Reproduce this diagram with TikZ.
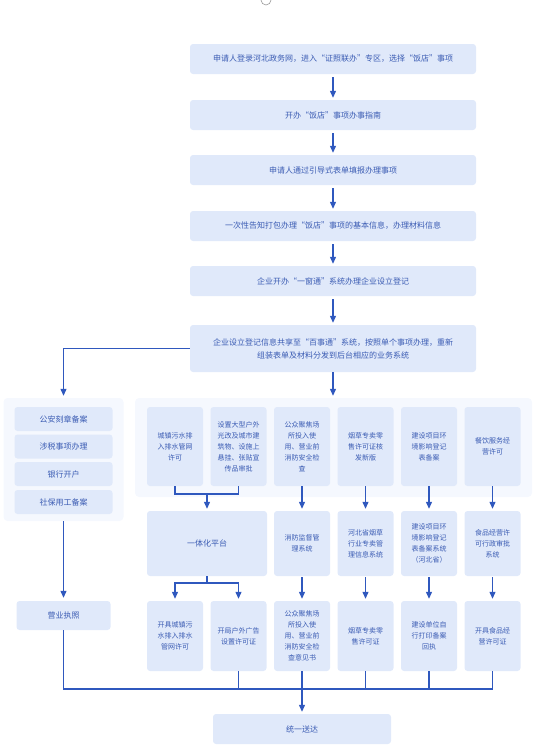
\documentclass[tikz,border=0pt]{standalone}
\usepackage{fontspec}
\setmainfont{Noto Sans CJK SC}
\usetikzlibrary{arrows.meta}
\definecolor{boxfill}{HTML}{E0E9FA}
\definecolor{panelfill}{HTML}{F5F8FE}
\definecolor{ink}{HTML}{3A5BB3}
\definecolor{flow}{HTML}{2F58BE}

\begin{document}
\begin{tikzpicture}[x=1pt,y=-1pt,
every node/.style={font=\fontsize{8}{13}\selectfont,text=ink}, box/.style={fill=boxfill,rounded corners=3pt,align=center,
inner sep=0pt}, mainbox/.style={box,minimum width=286pt,minimum height=30pt},
panel/.style={fill=panelfill,rounded corners=4pt,inner sep=0pt},
itembox/.style={box,minimum width=56pt,font=\fontsize{7}{11}\selectfont},
arr/.style={-{Triangle[width=6pt,length=7pt]},line width=1.2pt,draw=flow}, wire/.style={line width=1.2pt,draw=flow}]
\useasboundingbox (0,0) rectangle (540,750);
\node[circle,draw=gray!80,fill=white,minimum size=10pt,inner sep=0pt,line width=0.6pt] (topdot) at (266,0) {};

\node[mainbox] (login) at (333,59) {申请人登录河北政务网，进入“证照联办”专区，选择“饭店”事项};
\node[mainbox] (guide) at (333,115) {开办“饭店”事项办事指南};
\node[mainbox] (form) at (333,170) {申请人通过引导式表单填报办理事项};
\node[mainbox] (notice) at (333,226) {一次性告知打包办理“饭店”事项的基本信息，办理材料信息};
\node[mainbox] (register) at (333,281) {企业开办“一窗通”系统办理企业设立登记};
\node[mainbox,minimum height=47pt] (share) at (333,348.5) {企业设立登记信息共享至“百事通”系统，按照单个事项办理，重新\\组装表单及材料分发到后台相应的业务系统};
\draw[arr,shorten <=3pt,shorten >=2pt] (login)--(guide); \draw[arr,shorten <=3pt,shorten >=2pt] (guide)--(form);
\draw[arr,shorten <=3pt,shorten >=2pt] (form)--(notice); \draw[arr,shorten <=3pt,shorten >=2pt] (notice)--(register);
\draw[arr,shorten <=3pt,shorten >=2pt] (register)--(share);

\node[panel,minimum width=120pt,minimum height=123pt] (leftpanel) at (63.5,459.5) {};
\node[box,minimum width=98pt,minimum height=24pt] (seal) at (63.5,419) {公安刻章备案};
\node[box,minimum width=98pt,minimum height=24pt] (tax) at (63.5,446.5) {涉税事项办理};
\node[box,minimum width=98pt,minimum height=24pt] (bank) at (63.5,474) {银行开户};
\node[box,minimum width=98pt,minimum height=24pt] (social) at (63.5,502) {社保用工备案};
\node[box,minimum width=94pt,minimum height=29pt] (license) at (63.5,615.5) {营业执照};
\draw[arr,shorten >=2pt] (share.west) -| (leftpanel.north);
\draw[arr,shorten >=3pt] (leftpanel.south)--(license.north);

\node[panel,minimum width=397pt,minimum height=99pt] (rightpanel) at (333.5,447.5) {};
\draw[arr,shorten >=2pt] (share.south)--(share.south |- rightpanel.north);
\node[itembox,minimum height=79pt] (sewer) at (175,446.5) {城镇污水排\\入排水管网\\许可};
\node[itembox,minimum height=79pt] (billboard) at (238.5,446.5) {设置大型户外\\光改及城市建\\筑物、设施上\\悬挂、张贴宣\\传品审批};
\node[itembox,minimum height=79pt] (fire) at (302,446.5) {公众聚焦场\\所投入使\\用、营业前\\消防安全检\\查};
\node[itembox,minimum height=79pt] (tobacco) at (365.5,446.5) {烟草专卖零\\售许可证核\\发新版};
\node[itembox,minimum height=79pt] (envir) at (429,446.5) {建设项目环\\境影响登记\\表备案};
\node[itembox,minimum height=79pt] (food) at (492.5,446.5) {餐饮服务经\\营许可};

\node[box,minimum width=120pt,minimum height=65pt] (platform) at (207,543.5) {一体化平台};
\node[itembox,minimum height=65pt] (fireSys) at (302,543.5) {消防监督管\\理系统};
\node[itembox,minimum height=65pt] (tobaccoSys) at (365.5,543.5) {河北省烟草\\行业专卖管\\理信息系统};
\node[itembox,minimum height=65pt] (envirSys) at (429,543.5) {建设项目环\\境影响登记\\表备案系统\\（河北省）};
\node[itembox,minimum height=65pt] (foodSys) at (492.5,543.5) {食品经营许\\可行政审批\\系统};
\coordinate (topjoin) at (207,494);
\draw[wire] (sewer.south) |- (topjoin) -| (billboard.south);
\draw[arr,shorten >=2pt] (topjoin)--(platform.north);
\draw[arr,shorten >=2pt] (fire)--(fireSys); \draw[arr,shorten >=2pt] (tobacco)--(tobaccoSys);
\draw[arr,shorten >=2pt] (envir)--(envirSys); \draw[arr,shorten >=2pt] (food)--(foodSys);

\node[itembox,minimum height=70pt] (sewerCert) at (175,636) {开具城镇污\\水排入排水\\管网许可};
\node[itembox,minimum height=70pt] (billboardCert) at (238.5,636) {开局户外广告\\设置许可证};
\node[itembox,minimum height=70pt] (fireCert) at (302,636) {公众聚焦场\\所投入使\\用、营业前\\消防安全检\\查意见书};
\node[itembox,minimum height=70pt] (tobaccoCert) at (365.5,636) {烟草专卖零\\售许可证};
\node[itembox,minimum height=70pt] (envirCert) at (429,636) {建设单位自\\行打印备案\\回执};
\node[itembox,minimum height=70pt] (foodCert) at (492.5,636) {开具食品经\\营许可证};
\coordinate (lowjoin) at (207,583);
\draw[wire] (platform.south)--(lowjoin);
\draw[arr,shorten >=2pt] (lowjoin) -| (sewerCert.north); \draw[arr,shorten >=2pt] (lowjoin) -| (billboardCert.north);
\draw[arr,shorten <=1pt,shorten >=2pt] (fireSys)--(fireCert); \draw[arr,shorten <=1pt,shorten >=2pt] (tobaccoSys)--(tobaccoCert);
\draw[arr,shorten <=1pt,shorten >=2pt] (envirSys)--(envirCert); \draw[arr,shorten <=1pt,shorten >=2pt] (foodSys)--(foodCert);

\node[box,minimum width=178pt,minimum height=30pt] (deliver) at (302,729) {统一送达};
\coordinate (busend) at (492.5,689);
\draw[wire] (license.south) |- (busend) -- (foodCert.south);
\draw[wire] (billboardCert.south)--(billboardCert.south |- busend);
\draw[wire] (tobaccoCert.south)--(tobaccoCert.south |- busend);
\draw[wire] (envirCert.south)--(envirCert.south |- busend);
\draw[arr,shorten >=2pt] (fireCert.south)--(deliver.north);
\end{tikzpicture}
\end{document}
